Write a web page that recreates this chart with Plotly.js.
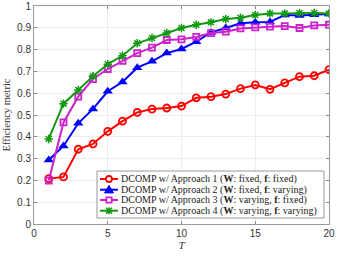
<!DOCTYPE html>
<html>
<head>
<meta charset="utf-8">
<script src="https://cdn.plot.ly/plotly-3.0.1.min.js"></script>
<style>html,body{margin:0;padding:0;background:#fff;}#chart{width:341px;height:256px;}</style>
</head>
<body>
<div id="chart"></div>
<script>
var T = [1,2,3,4,5,6,7,8,9,10,11,12,13,14,15,16,17,18,19,20];
var approach1 = [0.208,0.216,0.343,0.367,0.425,0.472,0.512,0.527,0.532,0.541,0.579,0.584,0.596,0.621,0.638,0.618,0.647,0.676,0.680,0.708];
var approach2 = [0.294,0.358,0.462,0.528,0.609,0.651,0.717,0.746,0.784,0.803,0.836,0.879,0.899,0.921,0.925,0.927,0.959,0.956,0.960,0.963];
var approach3 = [0.199,0.466,0.584,0.665,0.711,0.748,0.784,0.809,0.844,0.847,0.858,0.876,0.882,0.897,0.902,0.905,0.908,0.899,0.911,0.914];
var approach4 = [0.390,0.552,0.615,0.678,0.733,0.772,0.829,0.853,0.876,0.899,0.914,0.925,0.940,0.946,0.959,0.966,0.966,0.968,0.968,0.966];
var names = [
  'DCOMP w/ Approach 1 (<b>W</b>: fixed, <b>f</b>: fixed)',
  'DCOMP w/ Approach 2 (<b>W</b>: fixed, <b>f</b>: varying)',
  'DCOMP w/ Approach 3 (<b>W</b>: varying, <b>f</b>: fixed)',
  'DCOMP w/ Approach 4 (<b>W</b>: varying, <b>f</b>: varying)'
];
var colors = ['#ff0000','#0000ff','#cc22cc','#119911'];
var xTicks = [0,5,10,15,20];
var yTicks = [0,0.1,0.2,0.3,0.4,0.5,0.6,0.7,0.8,0.9,1];
var yTickText = ['0','0.1','0.2','0.3','0.4','0.5','0.6','0.7','0.8','0.9','1'];

var series = [approach1, approach2, approach3, approach4];
var markers = [
  {symbol:'circle-open', size:7, line:{width:1.8}},
  {symbol:'triangle-up', size:9},
  {symbol:'square-open', size:6, line:{width:1.8}},
  {symbol:'asterisk-open', size:7, line:{width:1.5}}
];
var traces = series.map(function(s, i){
  var m = Object.assign({color:colors[i]}, markers[i]);
  if (m.line) m.line = Object.assign({color:colors[i]}, m.line);
  return {x:T, y:s, name:names[i], mode:'lines+markers', line:{color:colors[i], width:2}, marker:m, showlegend:false};
});

// custom legend (MATLAB-like compact box)
var lgX0 = 0.2136, lgX1 = 0.983, lgY0 = 0.0275, lgY1 = 0.243;
var rowY = [0.2064, 0.1573, 0.1101, 0.0610];
var sx0 = 0.2237, sx1 = 0.2847, smx = 0.2542, tx = 0.288;
var shapes = [{type:'rect', xref:'paper', yref:'paper', x0:lgX0, x1:lgX1, y0:lgY0, y1:lgY1,
  line:{color:'#999', width:1}, fillcolor:'#fff', layer:'above'}];
var annotations = [];
rowY.forEach(function(y, i){
  var c = colors[i];
  shapes.push({type:'line', xref:'paper', yref:'paper', x0:sx0, x1:sx1, y0:y, y1:y, line:{color:c, width:2}, layer:'above'});
  var base = {xref:'paper', yref:'paper', xsizemode:'pixel', ysizemode:'pixel', xanchor:smx, yanchor:y, layer:'above'};
  if (i === 0) shapes.push(Object.assign({type:'circle', x0:-3, x1:3, y0:-3, y1:3, line:{color:c, width:1.8}, fillcolor:'#fff'}, base));
  if (i === 1) shapes.push(Object.assign({type:'path', path:'M -4.5 -3.2 L 4.5 -3.2 L 0 4.3 Z', line:{color:c, width:1}, fillcolor:c}, base));
  if (i === 2) shapes.push(Object.assign({type:'rect', x0:-2.7, x1:2.7, y0:-2.7, y1:2.7, line:{color:c, width:1.8}, fillcolor:'#fff'}, base));
  if (i === 3) shapes.push(Object.assign({type:'path', path:'M -3 -3 L 3 3 M -3 3 L 3 -3 M 0 -3.5 L 0 3.5 M -3.5 0 L 3.5 0', line:{color:c, width:1.5}}, base));
  annotations.push({xref:'paper', yref:'paper', x:tx, y:y, xanchor:'left', yanchor:'middle', showarrow:false,
    text:names[i], font:{family:'Liberation Serif, DejaVu Serif, serif', size:10, color:'#222'}});
});

var layout = {
  width:341, height:256,
  margin:{l:34, r:12, t:6, b:32},
  paper_bgcolor:'#fff', plot_bgcolor:'#fff',
  showlegend:false,
  font:{family:'Liberation Sans, Arial, sans-serif', size:10, color:'#333'},
  xaxis:{range:[0,20], tickvals:xTicks, ticks:'inside', ticklen:3, tickcolor:'#888',
    showline:true, linecolor:'#999', linewidth:1, mirror:'ticks', zeroline:false,
    showgrid:true, gridcolor:'#ececec', gridwidth:1,
    tickfont:{family:'Liberation Sans, Arial, sans-serif', size:10, color:'#333'},
    title:{text:'<i>T</i>', font:{family:'Liberation Serif, DejaVu Serif, serif', size:11, color:'#333'}, standoff:2}},
  yaxis:{range:[0,1], tickvals:yTicks, ticktext:yTickText, ticks:'inside', ticklen:3, tickcolor:'#888',
    showline:true, linecolor:'#999', linewidth:1, mirror:'ticks', zeroline:false,
    showgrid:true, gridcolor:'#ececec', gridwidth:1,
    tickfont:{family:'Liberation Sans, Arial, sans-serif', size:10, color:'#333'},
    title:{text:'Efficiency metric', font:{family:'Liberation Serif, DejaVu Serif, serif', size:10.5, color:'#333'}, standoff:4}},
  shapes:shapes,
  annotations:annotations
};

Plotly.newPlot('chart', traces, layout, {displayModeBar:false, staticPlot:true});
</script>
</body>
</html>
